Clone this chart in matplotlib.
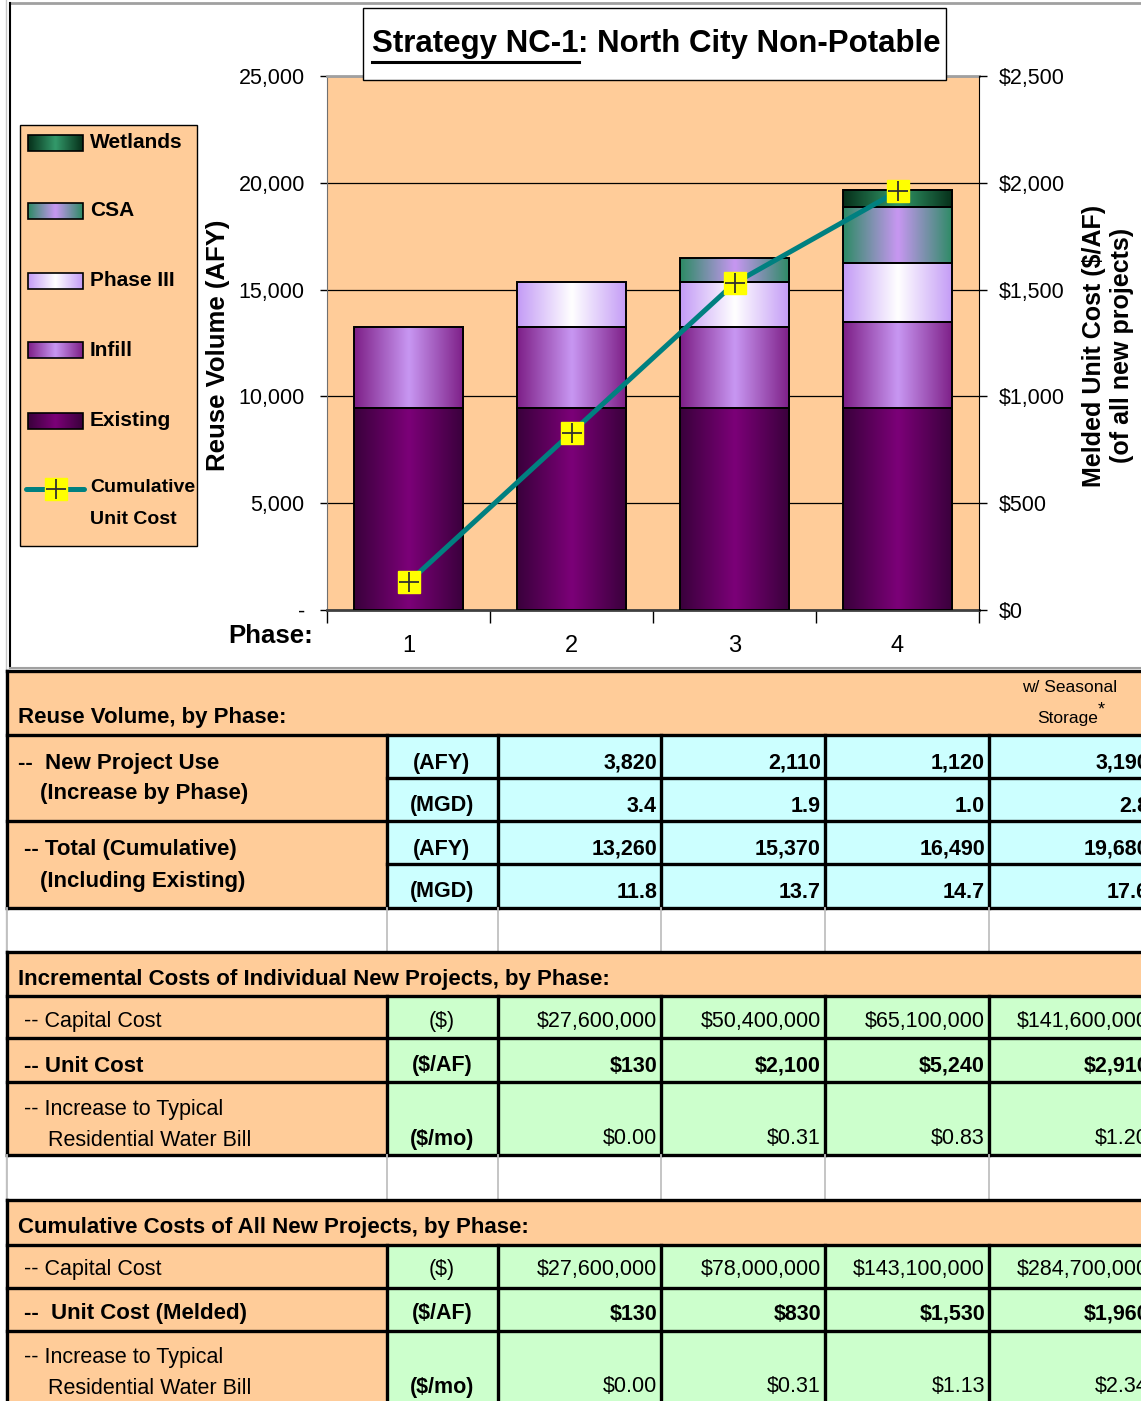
import numpy as np
import matplotlib
matplotlib.use('Agg')
import matplotlib.pyplot as plt
from matplotlib.colors import to_rgb
from matplotlib.patches import Rectangle
from matplotlib.ticker import FuncFormatter

# ---------------- chart data ----------------
phases = ['1', '2', '3', '4']
series = ['Existing', 'Infill', 'Phase III', 'CSA', 'Wetlands']
existing = [9440, 9440, 9440, 9440]
infill = [3820, 3820, 3820, 4050]
phase_iii = [0, 2110, 2110, 2760]
csa = [0, 0, 1120, 2620]
wetlands = [0, 0, 0, 810]
melded_cost = [130, 830, 1530, 1960]

# ---------------- table data ----------------
new_afy = [3820, 2110, 1120, 3190]
new_mgd = [3.4, 1.9, 1.0, 2.8]
tot_afy = [13260, 15370, 16490, 19680]
tot_mgd = [11.8, 13.7, 14.7, 17.6]
inc_capital = [27600000, 50400000, 65100000, 141600000]
inc_unit = [130, 2100, 5240, 2910]
inc_bill = [0.00, 0.31, 0.83, 1.20]
cum_capital = [27600000, 78000000, 143100000, 284700000]
cum_unit = [130, 830, 1530, 1960]
cum_bill = [0.00, 0.31, 1.13, 2.34]

SANS = ['Liberation Sans', 'DejaVu Sans']
PEACH = '#ffcc99'
CYAN = '#ccffff'
MINT = '#ccffcc'
TEAL = '#008080'

# edge colour / centre colour of each horizontal gradient fill
fills = {'Existing': ('#3a003c', '#7c0078'),
         'Infill': ('#7e2088', '#c897f2'),
         'Phase III': ('#c49cf6', '#ffffff'),
         'CSA': ('#2e8b66', '#c897f2'),
         'Wetlands': ('#06301a', '#33996a')}

def grad(name, n=64):
    e, m = np.array(to_rgb(fills[name][0])), np.array(to_rgb(fills[name][1]))
    t = np.linspace(0, 1, n)
    w = 1 - np.abs(2 * t - 1)
    return (e[None, :] * (1 - w[:, None]) + m[None, :] * w[:, None])[None, :, :]

W, H = 1141, 1401
plt.rcParams['font.family'] = SANS
fig = plt.figure(figsize=(W / 100, H / 100), dpi=100)

# ---------------- chart ----------------
ax = fig.add_axes([327 / W, 1 - 610 / H, 652 / W, 534 / H])
ax.set_facecolor(PEACH)
x = np.arange(len(phases))
bottom = np.zeros(len(phases))
for name, vals in zip(series, [existing, infill, phase_iii, csa, wetlands]):
    vals = np.array(vals, float)
    keep = vals > 0
    bars = ax.bar(x[keep], vals[keep], width=0.67, bottom=bottom[keep],
                  facecolor='none', edgecolor='black', lw=1.4, zorder=4)
    for b in bars:
        x0, y0 = b.get_x(), b.get_y()
        ax.imshow(grad(name), extent=(x0, x0 + b.get_width(), y0, y0 + b.get_height()),
                  aspect='auto', interpolation='bilinear', zorder=3)
    bottom += vals

ax.set_xlim(-0.5, 3.5)
ax.set_ylim(0, 25000)
ax.set_yticks(np.arange(0, 25001, 5000))
ax.yaxis.set_major_formatter(FuncFormatter(lambda v, p: '-' if v == 0 else f'{v:,.0f}'))
ax.yaxis.grid(True, color='black', lw=0.9, zorder=1)
ax.set_axisbelow(True)
ax.tick_params(axis='y', direction='out', length=5, width=1, pad=11, labelsize=15.5)
ax.set_xticks(x)
ax.set_xticklabels(phases)
ax.set_xticks([-0.5, 0.5, 1.5, 2.5, 3.5], minor=True)
ax.tick_params(axis='x', which='major', length=0, pad=18, labelsize=17)
ax.tick_params(axis='x', which='minor', direction='out', length=9, width=1)
ax.spines['left'].set_color('#707070')
ax.spines['top'].set_color('#a0a0a0')
ax.spines['top'].set_linewidth(2)
ax.spines['bottom'].set_color('#404040')
ax.spines['bottom'].set_linewidth(2)
ax.spines['right'].set_visible(False)
ax.set_ylabel('Reuse Volume (AFY)', fontsize=18.5, fontweight='bold', va='center')
ax.yaxis.set_label_coords(-0.167, 0.495)

ax2 = ax.twinx()
ax2.plot(x, melded_cost, color=TEAL, lw=3.6, zorder=5)
ax2.plot(x, melded_cost, ls='none', marker='s', ms=16, mfc='yellow', mec='yellow', zorder=6)
ax2.plot(x, melded_cost, ls='none', marker='+', ms=14, mec='#303030', mew=1.3, zorder=7)
ax2.set_ylim(0, 2500)
ax2.set_yticks(np.arange(0, 2501, 500))
ax2.yaxis.set_major_formatter(FuncFormatter(lambda v, p: f'${v:,.0f}'))
ax2.tick_params(axis='y', direction='out', length=6, width=1, pad=8, labelsize=15.5)
for s in ['left', 'top', 'bottom']:
    ax2.spines[s].set_visible(False)
ax2.spines['right'].set_color('black')
ax2.set_ylabel('Melded Unit Cost ($/AF)\n(of all new projects)', fontsize=18,
               fontweight='bold', va='center', linespacing=1.25)
ax2.yaxis.set_label_coords(1.198, 0.495)

# ---------------- overlay (pixel coordinates) ----------------
ov = fig.add_axes([0, 0, 1, 1], zorder=10)
ov.set_xlim(0, W)
ov.set_ylim(H, 0)
ov.axis('off')

# chart frame
ov.plot([6, 6], [0, H], color='#c8c8c8', lw=1)
ov.plot([10, W], [3, 3], color='#a0a0a0', lw=2)
ov.plot([10, 10], [3, 668], color='black', lw=1.5)
ov.plot([10, W], [668, 668], color='#a0a0a0', lw=1.5)

# title
ov.add_patch(Rectangle((363, 8), 583, 72, fc='white', ec='black', lw=1, zorder=2))
t1 = ov.text(372, 52, 'Strategy NC-1', fontsize=22.5, fontweight='bold',
             va='baseline', zorder=3)
fig.canvas.draw()
bb = t1.get_window_extent()
inv = ov.transData.inverted()
(bx0, _), (bx1, _) = inv.transform([(bb.x0, bb.y0), (bb.x1, bb.y1)])
ov.text(bx1, 52, ': North City Non-Potable', fontsize=22.5, fontweight='bold',
        va='baseline', zorder=3)
ov.plot([bx0, bx1], [62, 62], color='black', lw=2.2, zorder=3)

ov.text(313, 636, 'Phase:', fontsize=18.5, fontweight='bold', ha='right', va='center')

# legend
ov.add_patch(Rectangle((20, 125), 177, 421, fc=PEACH, ec='black', lw=1, zorder=1))
leg_y = {'Wetlands': 143, 'CSA': 211, 'Phase III': 281, 'Infill': 350, 'Existing': 421}
for name in series[::-1]:
    yc = leg_y[name]
    ov.imshow(grad(name), extent=(28, 83, yc + 8, yc - 8), aspect='auto',
              interpolation='bilinear', zorder=2)
    ov.add_patch(Rectangle((28, yc - 8), 55, 16, fc='none', ec='black', lw=1.2, zorder=3))
    ov.text(90, yc, name, fontsize=15, fontweight='bold', va='center')
ov.plot([26, 84], [489, 489], color=TEAL, lw=3.6, solid_capstyle='round')
ov.plot([56], [489], marker='s', ms=16, mfc='yellow', mec='yellow')
ov.plot([56], [489], marker='+', ms=14, mec='#303030', mew=1.3)
ov.text(90, 487, 'Cumulative', fontsize=14, fontweight='bold', va='center')
ov.text(90, 519, 'Unit Cost', fontsize=14, fontweight='bold', va='center')

# ---------------- table ----------------
cols = [7, 387, 498, 661, 825, 989, 1153]
XR = 1160
LW = 2.4

def fill(x0, y0, x1, y1, c):
    ov.add_patch(Rectangle((x0, y0), x1 - x0, y1 - y0, fc=c, ec='none', zorder=1))

def hl(y, x0=cols[0], x1=XR, c='black', lw=LW):
    ov.plot([x0, x1], [y, y], color=c, lw=lw, solid_capstyle='projecting', zorder=4)

def vl(x, y0, y1, c='black', lw=LW):
    ov.plot([x, x], [y0, y1], color=c, lw=lw, solid_capstyle='projecting', zorder=4)

def txt(xx, yy, s, bold=False, ha='left', size=15.5):
    ov.text(xx, yy + 2, s, fontsize=size, fontweight='bold' if bold else 'normal',
            ha=ha, va='center', zorder=5)

def values(vals, yy, fmt, bold=False):
    for i, v in enumerate(vals):
        txt(cols[i + 3] - 4, yy, fmt(v), bold=bold, ha='right')

def blank(y0, y1):
    for xx in cols[:-1]:
        vl(xx, y0, y1, c='#c0c0c0', lw=1.3)

# volume block
fill(cols[0], 671, XR, 735, PEACH)
fill(cols[0], 735, cols[1], 908, PEACH)
fill(cols[1], 735, XR, 908, CYAN)
for yy in [671, 735, 821, 908]:
    hl(yy)
for yy in [778, 864]:
    hl(yy, x0=cols[1])
vl(cols[0], 671, 908)
for xx in cols[1:]:
    vl(xx, 735, 908)
txt(18, 716, 'Reuse Volume, by Phase:', bold=True, size=16)
txt(1070, 686, 'w/ Seasonal', ha='center', size=12.5)
txt(1098, 716, 'Storage', ha='right', size=12.5)
txt(1098, 708, '*', size=13)
txt(18, 761, '--  New Project Use', bold=True, size=16)
txt(40, 792, '(Increase by Phase)', bold=True, size=16)
txt(24, 848, '-- Total (Cumulative)', bold=True, size=16)
txt(40, 879, '(Including Existing)', bold=True, size=16)
for yy, u in [(761, '(AFY)'), (804, '(MGD)'), (847, '(AFY)'), (890, '(MGD)')]:
    txt(442, yy, u, bold=True, ha='center')
values(new_afy, 761, lambda v: f'{v:,}', bold=True)
values(new_mgd, 804, lambda v: f'{v:.1f}', bold=True)
values(tot_afy, 847, lambda v: f'{v:,}', bold=True)
values(tot_mgd, 890, lambda v: f'{v:.1f}', bold=True)

blank(908, 952)

# incremental cost block
fill(cols[0], 952, XR, 996, PEACH)
fill(cols[0], 996, cols[1], 1155, PEACH)
fill(cols[1], 996, XR, 1155, MINT)
for yy in [952, 996, 1038, 1082, 1155]:
    hl(yy)
vl(cols[0], 952, 1155)
for xx in cols[1:]:
    vl(xx, 996, 1155)
txt(18, 977, 'Incremental Costs of Individual New Projects, by Phase:', bold=True, size=16)
txt(24, 1020, '-- Capital Cost')
txt(442, 1020, '($)', ha='center')
values(inc_capital, 1020, lambda v: f'${v:,}')
txt(24, 1064, '-- Unit Cost', bold=True, size=16)
txt(442, 1064, '($/AF)', bold=True, ha='center')
values(inc_unit, 1064, lambda v: f'${v:,}', bold=True)
txt(24, 1108, '-- Increase to Typical')
txt(48, 1138, 'Residential Water Bill')
txt(442, 1138, '($/mo)', bold=True, ha='center')
values(inc_bill, 1137, lambda v: f'${v:.2f}')

blank(1155, 1200)

# cumulative cost block
fill(cols[0], 1200, XR, 1245, PEACH)
fill(cols[0], 1245, cols[1], H + 10, PEACH)
fill(cols[1], 1245, XR, H + 10, MINT)
for yy in [1200, 1245, 1288, 1331]:
    hl(yy)
vl(cols[0], 1200, H + 10)
for xx in cols[1:]:
    vl(xx, 1245, H + 10)
txt(18, 1226, 'Cumulative Costs of All New Projects, by Phase:', bold=True, size=16)
txt(24, 1268, '-- Capital Cost')
txt(442, 1268, '($)', ha='center')
values(cum_capital, 1268, lambda v: f'${v:,}')
txt(24, 1312, '--  Unit Cost (Melded)', bold=True, size=16)
txt(442, 1312, '($/AF)', bold=True, ha='center')
values(cum_unit, 1312, lambda v: f'${v:,}', bold=True)
txt(24, 1356, '-- Increase to Typical')
txt(48, 1386, 'Residential Water Bill')
txt(442, 1386, '($/mo)', bold=True, ha='center')
values(cum_bill, 1385, lambda v: f'${v:.2f}')

ov.set_xlim(0, W)
ov.set_ylim(H, 0)
fig.savefig('out.png', dpi=100)
